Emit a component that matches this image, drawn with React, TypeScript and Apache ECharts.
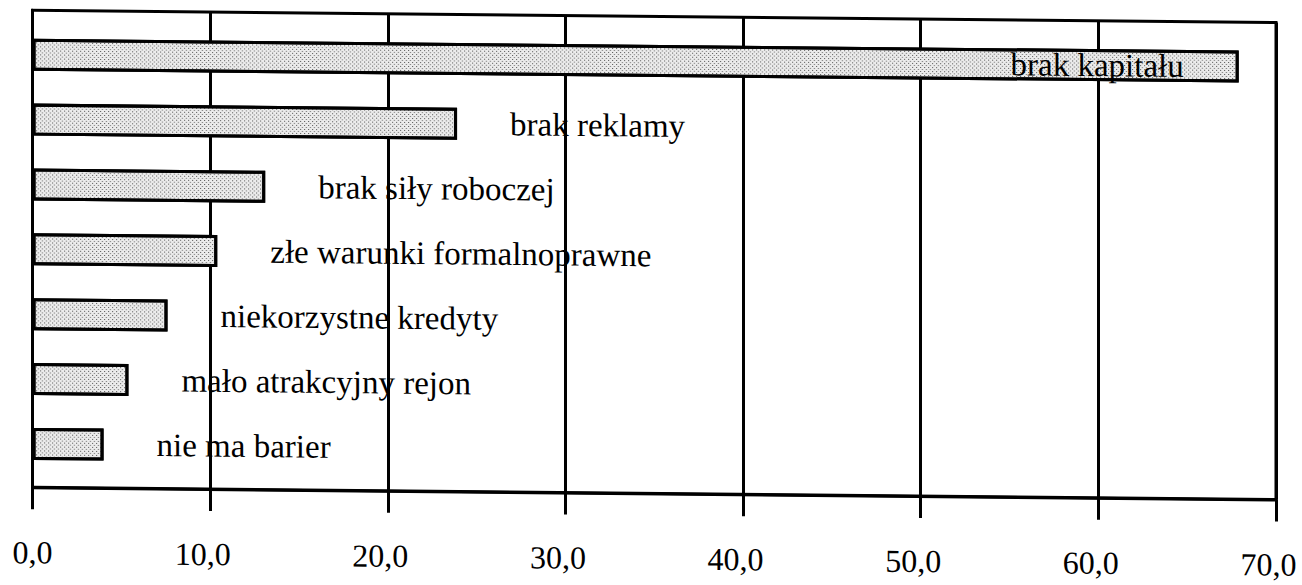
import React, { useEffect, useRef } from "react";
import * as echarts from "echarts";

const categories = [
  "brak kapitału",
  "brak reklamy",
  "brak siły roboczej",
  "złe warunki formalnoprawne",
  "niekorzystne kredyty",
  "mało atrakcyjny rejon",
  "nie ma barier",
];
const values = [67.9, 23.9, 13.1, 10.4, 7.6, 5.4, 4.0];
const axisMin = 0;
const axisMax = 70;
const axisStep = 10;

const fmt = (v: number) => v.toFixed(1).replace(".", ",");

export default function App() {
  const ref = useRef<HTMLDivElement>(null);
  useEffect(() => {
    if (!ref.current) return;
    const chart = echarts.init(ref.current, null, { renderer: "svg" });
    const font = "'Liberation Serif', 'Times New Roman', serif";
    chart.setOption({
      animation: false,
      backgroundColor: "#fff",
      grid: [
        { left: 32.5, right: 26, top: 10, bottom: 98, show: true, borderColor: "#000", borderWidth: 3 },
        { left: 32.5, right: 26, top: 22, bottom: 109 },
      ],
      xAxis: [
        {
          gridIndex: 0,
          type: "value",
          min: axisMin,
          max: axisMax,
          interval: axisStep,
          axisLine: { show: true, lineStyle: { color: "#000", width: 3 } },
          axisTick: { show: true, length: 22, lineStyle: { color: "#000", width: 3 } },
          splitLine: { show: true, lineStyle: { color: "#000", width: 3 } },
          axisLabel: {
            margin: 49,
            color: "#000",
            fontFamily: font,
            fontSize: 32,
            formatter: (v: number) => (v === 0 ? `{z|${fmt(v)}}` : `{n|${fmt(v)}}`),
            rich: {
              z: { fontFamily: font, fontSize: 32, color: "#000" },
              n: { fontFamily: font, fontSize: 32, color: "#000", padding: [0, 15, 0, 0] },
            },
          },
        },
        { gridIndex: 1, type: "value", min: axisMin, max: axisMax, show: false },
      ],
      yAxis: [
        {
          gridIndex: 0,
          type: "category",
          data: categories,
          inverse: true,
          axisLine: { show: true, lineStyle: { color: "#000", width: 3 } },
          axisTick: { show: false },
          axisLabel: { show: false },
          splitLine: { show: false },
        },
        { gridIndex: 1, type: "category", data: categories, inverse: true, show: false },
      ],
      series: [
        {
          type: "bar",
          xAxisIndex: 1,
          yAxisIndex: 1,
          barWidth: 32,
          data: values.map((v, i) =>
            i === 0 ? { value: v, label: { position: "insideRight", distance: 55 } } : { value: v }
          ),
          itemStyle: {
            color: "#ececec",
            borderColor: "#000",
            borderWidth: 3,
            decal: {
              symbol: "rect",
              symbolSize: 1,
              color: "#555",
              dashArrayX: [
                [1, 3],
                [0, 2, 1, 1],
              ],
              dashArrayY: [1, 1],
            },
          },
          label: {
            show: true,
            position: "right",
            distance: 53,
            formatter: "{b}",
            color: "#000",
            fontFamily: font,
            fontSize: 33,
          },
        },
      ],
    });
    return () => chart.dispose();
  }, []);
  return (
    <div
      ref={ref}
      style={{
        position: "absolute",
        left: 0,
        top: 0,
        width: 1302,
        height: 585,
        transform: "skewY(0.56deg)",
        transformOrigin: "0 0",
      }}
    />
  );
}
